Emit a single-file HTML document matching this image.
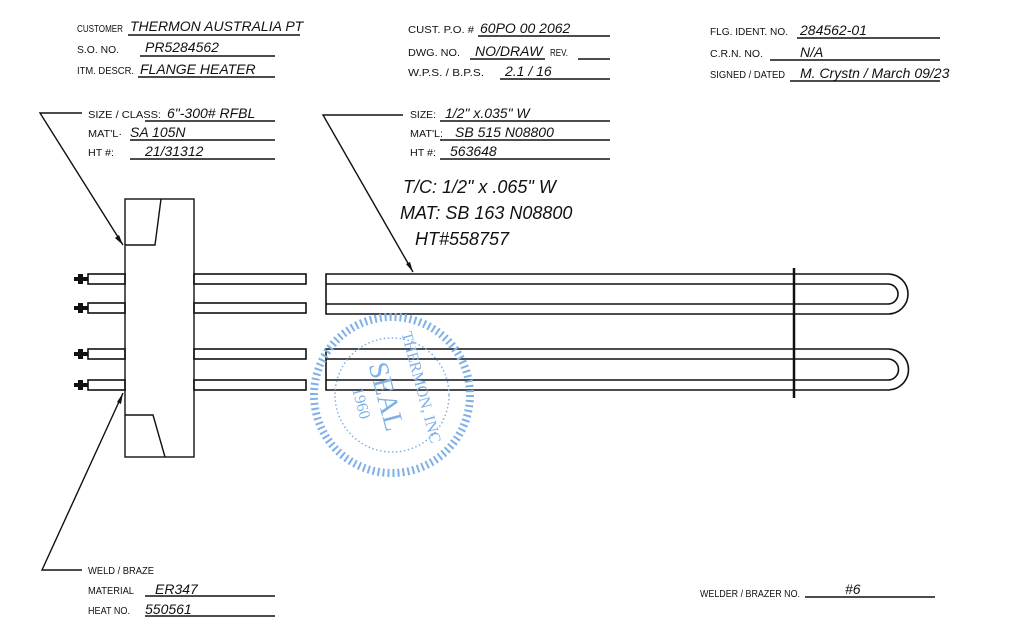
<!DOCTYPE html>
<html><head><meta charset="utf-8"><style>
html,body{margin:0;padding:0;background:#fff;}
svg{display:block}
.l{font-family:"Liberation Sans",sans-serif;font-size:10px;fill:#111;}
.h{font-family:"Liberation Sans","DejaVu Sans",sans-serif;font-style:italic;font-size:14px;fill:#111;}
.hb{font-family:"Liberation Sans","DejaVu Sans",sans-serif;font-style:italic;font-size:18px;fill:#111;}
</style></head><body>
<svg width="1023" height="633" viewBox="0 0 1023 633" xmlns="http://www.w3.org/2000/svg">
<rect width="1023" height="633" fill="#fff"/>
<g stroke="#111" stroke-width="1.4" fill="none">
<line x1="128" y1="35" x2="300" y2="35"/><line x1="140" y1="56" x2="275" y2="56"/><line x1="138" y1="77" x2="275" y2="77"/>
<line x1="478" y1="36" x2="610" y2="36"/><line x1="470" y1="59" x2="545" y2="59"/><line x1="578" y1="59" x2="610" y2="59"/><line x1="500" y1="79" x2="610" y2="79"/>
<line x1="797" y1="38" x2="940" y2="38"/><line x1="770" y1="60" x2="940" y2="60"/><line x1="790" y1="81" x2="940" y2="81"/>
<line x1="145" y1="121" x2="275" y2="121"/><line x1="130" y1="140" x2="275" y2="140"/><line x1="130" y1="159" x2="275" y2="159"/>
<line x1="440" y1="121" x2="610" y2="121"/><line x1="440" y1="140" x2="610" y2="140"/><line x1="440" y1="159" x2="610" y2="159"/>
<line x1="145" y1="596" x2="275" y2="596"/><line x1="145" y1="616" x2="275" y2="616"/>
<line x1="805" y1="597" x2="935" y2="597"/>
<polyline points="82,113 40,113 123,245"/>
<polyline points="403,115 323,115 413,272"/>
<polyline points="123,393 42,570 82,570"/>
<rect x="125" y="199" width="69" height="258"/>
<polyline points="125,245 155,245 161,199"/>
<polyline points="125,415 153,415 165,457"/>
<g stroke-width="1.6">
<rect x="88" y="274" width="37" height="10"/><rect x="88" y="303" width="37" height="10"/>
<rect x="88" y="349" width="37" height="10"/><rect x="88" y="380" width="37" height="10"/>
<rect x="194" y="274" width="112" height="10"/><rect x="194" y="303" width="112" height="10"/>
<rect x="194" y="349" width="112" height="10"/><rect x="194" y="380" width="112" height="10"/>
<path d="M326,274 H888 A20,20 0 0 1 888,314 H326 Z"/>
<path d="M326,284 H888 A10,10 0 0 1 888,304 H326"/>
<path d="M326,349 H888 A20,20 0 0 1 888,390 H326 Z"/>
<path d="M326,359 H888 A10,10 0 0 1 888,380 H326"/>
<line x1="794" y1="268" x2="794" y2="398" stroke-width="2.5"/>
</g>
</g>
<g fill="#111">
<rect x="74" y="277" width="14" height="4"/><rect x="78" y="274" width="5" height="10"/>
<rect x="74" y="306" width="14" height="4"/><rect x="78" y="303" width="5" height="10"/>
<rect x="74" y="352" width="14" height="4"/><rect x="78" y="349" width="5" height="10"/>
<rect x="74" y="383" width="14" height="4"/><rect x="78" y="380" width="5" height="10"/>
</g>
<polygon points="123,245 115,238 119,235" fill="#111"/>
<polygon points="413,272 406,264 410,262" fill="#111"/>
<polygon points="123,393 117,402 121,404" fill="#111"/>
<g stroke="#7fb0e6" fill="none">
<circle cx="392" cy="395" r="78" stroke-width="8" stroke-dasharray="2 3"/>
<circle cx="392" cy="395" r="57" stroke-width="1.5" stroke-dasharray="1.5 2.5"/>
</g>
<g fill="#7fb0e6" font-family="Liberation Serif,serif" transform="rotate(75 392 395)">
<text x="392" y="370" font-size="16" text-anchor="middle">THERMON, INC</text>
<text x="392" y="410" font-size="28" text-anchor="middle">SEAL</text>
<text x="392" y="432" font-size="16" text-anchor="middle">1960</text>
</g>
<g class="l">
<text x="77" y="32" textLength="46" lengthAdjust="spacingAndGlyphs">CUSTOMER</text>
<text x="77" y="53" textLength="42" lengthAdjust="spacingAndGlyphs">S.O. NO.</text>
<text x="77" y="74" textLength="57" lengthAdjust="spacingAndGlyphs">ITM. DESCR.</text>
<text x="408" y="33" textLength="66" lengthAdjust="spacingAndGlyphs">CUST. P.O. #</text>
<text x="408" y="56" textLength="52" lengthAdjust="spacingAndGlyphs">DWG. NO.</text>
<text x="550" y="56" textLength="18" lengthAdjust="spacingAndGlyphs">REV.</text>
<text x="408" y="76" textLength="76" lengthAdjust="spacingAndGlyphs">W.P.S. / B.P.S.</text>
<text x="710" y="35" textLength="78" lengthAdjust="spacingAndGlyphs">FLG. IDENT. NO.</text>
<text x="710" y="57" textLength="53" lengthAdjust="spacingAndGlyphs">C.R.N. NO.</text>
<text x="710" y="78" textLength="75" lengthAdjust="spacingAndGlyphs">SIGNED / DATED</text>
<text x="88" y="118" textLength="73" lengthAdjust="spacingAndGlyphs">SIZE / CLASS:</text>
<text x="88" y="137" textLength="34" lengthAdjust="spacingAndGlyphs">MAT'L·</text>
<text x="88" y="156" textLength="26" lengthAdjust="spacingAndGlyphs">HT #:</text>
<text x="410" y="118" textLength="26" lengthAdjust="spacingAndGlyphs">SIZE:</text>
<text x="410" y="137" textLength="33" lengthAdjust="spacingAndGlyphs">MAT'L:</text>
<text x="410" y="156" textLength="26" lengthAdjust="spacingAndGlyphs">HT #:</text>
<text x="88" y="574" textLength="66" lengthAdjust="spacingAndGlyphs">WELD / BRAZE</text>
<text x="88" y="594" textLength="46" lengthAdjust="spacingAndGlyphs">MATERIAL</text>
<text x="88" y="614" textLength="42" lengthAdjust="spacingAndGlyphs">HEAT NO.</text>
<text x="700" y="597" textLength="100" lengthAdjust="spacingAndGlyphs">WELDER / BRAZER NO.</text>
</g>
<g class="h">
<text x="130" y="31">THERMON AUSTRALIA PT</text>
<text x="145" y="52">PR5284562</text>
<text x="140" y="74">FLANGE HEATER</text>
<text x="480" y="33">60PO 00 2062</text>
<text x="475" y="56">NO/DRAW</text>
<text x="505" y="76">2.1 / 16</text>
<text x="800" y="35">284562-01</text>
<text x="800" y="57">N/A</text>
<text x="800" y="78">M. Crystn / March 09/23</text>
<text x="167" y="118">6"-300# RFBL</text>
<text x="130" y="137">SA 105N</text>
<text x="145" y="156">21/31312</text>
<text x="445" y="118">1/2" x.035" W</text>
<text x="455" y="137">SB 515 N08800</text>
<text x="450" y="156">563648</text>
<text x="155" y="594">ER347</text>
<text x="145" y="614">550561</text>
<text x="845" y="594">#6</text>
</g>
<g class="hb">
<text x="403" y="193">T/C: 1/2" x .065" W</text>
<text x="400" y="219">MAT: SB 163 N08800</text>
<text x="415" y="245">HT#558757</text>
</g>
</svg>
</body></html>
